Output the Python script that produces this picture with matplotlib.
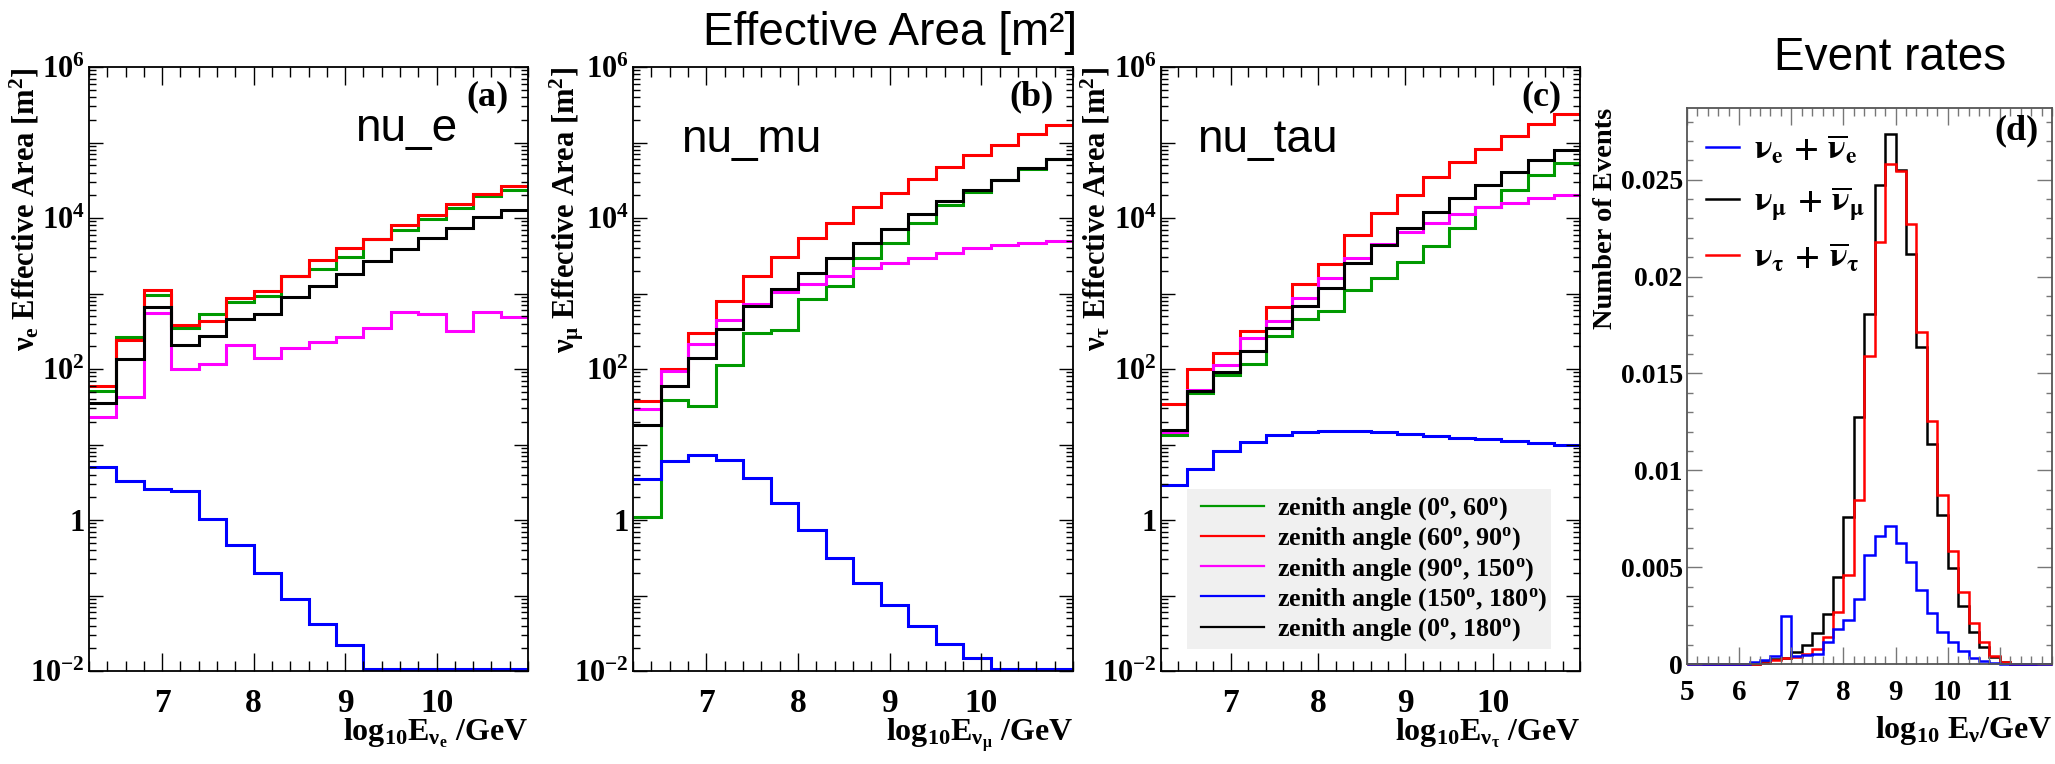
import numpy as np
import matplotlib
matplotlib.use("Agg")
from matplotlib import pyplot as plt
from matplotlib.ticker import FixedLocator, MultipleLocator, NullFormatter
from matplotlib.lines import Line2D
from matplotlib.patches import Rectangle

plt.rcParams['mathtext.fontset'] = 'custom'
plt.rcParams['mathtext.rm'] = 'Liberation Serif:bold'
plt.rcParams['mathtext.it'] = 'Liberation Serif:italic:bold'
plt.rcParams['mathtext.bf'] = 'Liberation Serif:bold'
plt.rcParams['font.family'] = ['Liberation Serif', 'DejaVu Serif']
plt.rcParams['font.weight'] = 'bold'

# effective area histograms, log10(E/GeV) bins of 0.3 from 6.2 to 11.0
area_edges = [6.2, 6.5, 6.8, 7.1, 7.4, 7.7, 8.0, 8.3, 8.6, 8.9, 9.2, 9.5, 9.8, 10.1, 10.4, 10.7, 11.0]
zenith_labels = [r'zenith angle (0$^{\mathrm{o}}$, 60$^{\mathrm{o}}$)',
                 r'zenith angle (60$^{\mathrm{o}}$, 90$^{\mathrm{o}}$)',
                 r'zenith angle (90$^{\mathrm{o}}$, 150$^{\mathrm{o}}$)',
                 r'zenith angle (150$^{\mathrm{o}}$, 180$^{\mathrm{o}}$)',
                 r'zenith angle (0$^{\mathrm{o}}$, 180$^{\mathrm{o}}$)']
zenith_colors = ['#009900', '#ff0000', '#ff00ff', '#0000ff', '#000000']

nue_0_60 = [51, 264, 946, 348, 528, 769, 920, 1718, 2116, 3076, 5280, 6870, 9720, 13600, 19460, 23600]
nue_60_90 = [59, 243, 1117, 384, 435, 883, 1072, 1718, 2793, 3947, 5280, 8130, 10870, 15170, 20570, 26400]
nue_90_150 = [23, 42, 558, 99, 118, 206, 140, 192, 230, 264, 348, 566, 528, 321, 566, 486]
nue_150_180 = [5.1, 3.3, 2.6, 2.4, 1.03, 0.46, 0.2, 0.089, 0.042, 0.022, 0, 0, 0, 0, 0, 0]
nue_0_180 = [35, 136, 659, 206, 272, 460, 528, 907, 1248, 1815, 2680, 3890, 5360, 7260, 10280, 12830]

numu_0_60 = [1.09, 39, 32.5, 112, 299, 330, 847, 1265, 2910, 4600, 8710, 14760, 22300, 31600, 44800, 60700]
numu_60_90 = [38, 99, 303, 801, 1718, 3076, 5360, 8710, 13960, 21450, 32500, 47300, 67800, 92000, 128300, 169400]
numu_90_150 = [29.5, 93, 217, 448, 717, 1042, 1340, 1718, 2175, 2500, 2995, 3440, 3950, 4350, 4730, 5000]
numu_150_180 = [3.53, 5.98, 7.36, 6.15, 3.58, 1.67, 0.73, 0.31, 0.146, 0.074, 0.039, 0.023, 0.015, 0, 0, 0]
numu_0_180 = [18.2, 59, 142, 339, 687, 1132, 1868, 2950, 4670, 7170, 11160, 16700, 23600, 32100, 46000, 60700]

nutau_0_60 = [13.2, 48, 84, 117, 274, 464, 588, 1099, 1622, 2640, 4290, 7380, 13960, 23400, 37100, 53200]
nutau_60_90 = [34, 100, 163, 321, 653, 1327, 2490, 5980, 11490, 20100, 35100, 55500, 83000, 122500, 175800, 238700]
nutau_90_150 = [14.8, 53, 114, 255, 427, 879, 1622, 2910, 4530, 6500, 8710, 11330, 13960, 15800, 18200, 20400]
nutau_150_180 = [2.9, 4.7, 8.2, 10.9, 13.2, 14.6, 15.2, 15.2, 14.6, 13.8, 12.9, 12.3, 11.7, 11.0, 10.4, 9.9]
nutau_0_180 = [15.8, 51.6, 92.5, 175, 346, 675, 1177, 2530, 4350, 7280, 12190, 18500, 27300, 40300, 57800, 78500]

# event rates, bins of 0.2 from 5.0 to 12.0
rate_edges = np.linspace(5.0, 12.0, 36)
rate_nue = [0, 0, 0, 0, 0, 0, 0.0001, 0.0002, 0.0004, 0.00247, 0.00042, 0.00047, 0.0005, 0.00113,
            0.00183, 0.00226, 0.00336, 0.00564, 0.00663, 0.0071, 0.00626, 0.00524, 0.00383, 0.00261,
            0.00165, 0.00113, 0.00066, 0.0003, 0.00016, 0.00007, 0, 0, 0, 0, 0]
rate_numu = [0, 0, 0, 0, 0, 0, 0, 0.0001, 0.00024, 0.0003, 0.0006, 0.00096, 0.0016, 0.0026,
             0.0045, 0.0076, 0.01275, 0.01806, 0.02474, 0.02735, 0.0255, 0.02114, 0.01637, 0.01134,
             0.00767, 0.00494, 0.00301, 0.00167, 0.00089, 0.00035, 0.00012, 0, 0, 0, 0]
rate_nutau = [0, 0, 0, 0, 0, 0, 0, 0.00005, 0.0002, 0.0003, 0.00035, 0.0005, 0.00078, 0.0014,
              0.0027, 0.00459, 0.00847, 0.01588, 0.0218, 0.02583, 0.02547, 0.02272, 0.01712, 0.01254,
              0.0087, 0.00583, 0.00372, 0.00214, 0.00113, 0.00042, 0.00012, 0, 0, 0, 0]

W, H = 2055, 764
fig = plt.figure(figsize=(W / 100, H / 100), dpi=100)


def px_axes(left, top, right, bottom):
    return fig.add_axes([left / W, 1 - bottom / H, (right - left) / W, (bottom - top) / H])


def area_panel(ax, series, ylab, xlab, tag, name, name_xy):
    for vals, col in zip(series, zenith_colors):
        v = np.clip(np.array(vals, dtype=float), 1.05e-2, None)
        ax.stairs(v, area_edges, baseline=None, color=col, lw=2.2)
    ax.set_yscale('log')
    ax.set_xlim(6.2, 11.0)
    ax.set_ylim(1e-2, 1e6)
    ax.yaxis.set_major_locator(FixedLocator([10.0 ** k for k in range(-2, 7)]))
    ylabels = ['$10^{-2}$', '', '1', '', '$10^{2}$', '', '$10^{4}$', '', '$10^{6}$']
    ax.set_yticklabels(ylabels)
    ax.yaxis.set_minor_locator(FixedLocator([m * 10.0 ** k for k in range(-2, 6) for m in range(2, 10)]))
    ax.yaxis.set_minor_formatter(NullFormatter())
    ax.set_xticks([7, 8, 9, 10])
    ax.set_xticklabels(['7', '8', '9', '10'])
    ax.xaxis.set_minor_locator(MultipleLocator(0.2))
    ax.tick_params(which='both', direction='in', top=True, right=True, width=1.0)
    ax.tick_params(axis='x', which='major', length=13, pad=12, labelsize=24)
    ax.tick_params(axis='x', which='minor', length=7)
    ax.tick_params(axis='y', which='major', length=10, pad=3, labelsize=22)
    ax.tick_params(axis='y', which='minor', length=5)
    for sp in ax.spines.values():
        sp.set_linewidth(1.3)
    ax.text(ylab[0], 1.0, ylab[1], rotation=90, ha='center', va='top',
            transform=ax.transAxes, fontsize=22, fontweight='bold')
    ax.text(1.0, -0.075, xlab, ha='right', va='top', transform=ax.transAxes,
            fontsize=23, fontweight='bold')
    ax.text(0.955, 0.95, tag, ha='right', va='center', transform=ax.transAxes,
            fontsize=26, fontweight='bold')
    ax.text(name_xy[0], name_xy[1], name, ha='left', va='baseline', transform=ax.transAxes,
            fontsize=33, fontweight='normal', family='Liberation Sans')


ax_a = px_axes(89, 67, 528, 671)
area_panel(ax_a, [nue_0_60, nue_60_90, nue_90_150, nue_150_180, nue_0_180],
           (-0.145, r'$\mathrm{\nu_{e}}$ Effective Area [m$^{2}$]'),
           r'log$_{10}$E$_{\mathrm{\nu_{e}}}$ /GeV', '(a)', 'nu_e', (0.606, 0.877))

ax_b = px_axes(633, 67, 1073, 671)
area_panel(ax_b, [numu_0_60, numu_60_90, numu_90_150, numu_150_180, numu_0_180],
           (-0.15, r'$\mathrm{\nu_{\mu}}$ Effective Area [m$^{2}$]'),
           r'log$_{10}$E$_{\mathrm{\nu_{\mu}}}$ /GeV', '(b)', 'nu_mu', (0.109, 0.859))

ax_c = px_axes(1161, 67, 1580, 671)
area_panel(ax_c, [nutau_0_60, nutau_60_90, nutau_90_150, nutau_150_180, nutau_0_180],
           (-0.156, r'$\mathrm{\nu_{\tau}}$ Effective Area [m$^{2}$]'),
           r'log$_{10}$E$_{\mathrm{\nu_{\tau}}}$ /GeV', '(c)', 'nu_tau', (0.086, 0.859))

# shaded legend box for the zenith-angle bands
ax_c.add_patch(Rectangle((0.062, 0.036), 0.869, 0.265, transform=ax_c.transAxes,
                         facecolor='#f0f0f0', edgecolor='none', zorder=4))
handles = [Line2D([], [], color=c, lw=1.6) for c in zenith_colors]
leg = ax_c.legend(handles, zenith_labels, loc='center left', bbox_to_anchor=(0.0955, 0.1685),
                  borderaxespad=0, borderpad=0, frameon=False, handlelength=2.4,
                  handletextpad=0.5, labelspacing=0.13,
                  prop={'family': 'Liberation Serif', 'weight': 'bold', 'size': 18.8})
leg.set_zorder(5)

# event rate panel
ax_d = px_axes(1687, 108, 2052, 664)
rate_colors = ['#000000', '#ff0000', '#0000ff']
for vals, col in zip([rate_numu, rate_nutau, rate_nue], rate_colors):
    ax_d.stairs(vals, rate_edges, baseline=None, color=col, lw=1.8, clip_on=False)
ax_d.set_xlim(5, 12)
ax_d.set_ylim(0, 0.0287)
ax_d.set_xticks([5, 6, 7, 8, 9, 10, 11])
ax_d.set_xticklabels(['5', '6', '7', '8', '9', '10', '11'])
ax_d.xaxis.set_minor_locator(MultipleLocator(0.2))
ax_d.set_yticks([0, 0.005, 0.01, 0.015, 0.02, 0.025])
ax_d.set_yticklabels(['0', '0.005', '0.01', '0.015', '0.02', '0.025'])
ax_d.yaxis.set_minor_locator(MultipleLocator(0.001))
ax_d.tick_params(which='both', direction='in', top=True, right=True, width=1.0, color='#777777')
ax_d.tick_params(axis='x', which='major', length=12, pad=11, labelsize=21)
ax_d.tick_params(axis='x', which='minor', length=6)
ax_d.tick_params(axis='y', which='major', length=11, pad=3, labelsize=20)
ax_d.tick_params(axis='y', which='minor', length=4)
for sp in ax_d.spines.values():
    sp.set_color('#555555')
    sp.set_linewidth(1.3)
ax_d.text(-0.222, 1.0, 'Number of Events', rotation=90, ha='center', va='top',
          transform=ax_d.transAxes, fontsize=20.5, fontweight='bold')
ax_d.text(1.0, -0.09, r'log$_{10}$ E$_{\mathrm{\nu}}$/GeV', ha='right', va='top',
          transform=ax_d.transAxes, fontsize=23, fontweight='bold')
ax_d.text(0.962, 0.959, '(d)', ha='right', va='center', transform=ax_d.transAxes,
          fontsize=26, fontweight='bold')

rate_handles = [Line2D([], [], color=c, lw=1.8) for c in ['#0000ff', '#000000', '#ff0000']]
rate_labels = [r'$\mathrm{\nu_{e}\,+\,\overline{\nu}_{e}}$',
               r'$\mathrm{\nu_{\mu}\,+\,\overline{\nu}_{\mu}}$',
               r'$\mathrm{\nu_{\tau}\,+\,\overline{\nu}_{\tau}}$']
leg_d = ax_d.legend(rate_handles, rate_labels, loc='upper left', bbox_to_anchor=(0.052, 0.955),
                    borderaxespad=0, borderpad=0, frameon=False, handlelength=1.0,
                    handletextpad=0.45, labelspacing=0.55,
                    prop={'size': 24, 'weight': 'normal'})
for t in leg_d.get_texts():
    t.set_math_fontfamily('stix')

fig.text(890 / W, 1 - 45 / H, 'Effective Area [m²]', ha='center', va='baseline',
         fontsize=33, fontweight='normal', family='Liberation Sans')
fig.text(1890 / W, 1 - 70 / H, 'Event rates', ha='center', va='baseline',
         fontsize=33, fontweight='normal', family='Liberation Sans')

fig.savefig('out.png', dpi=100)
